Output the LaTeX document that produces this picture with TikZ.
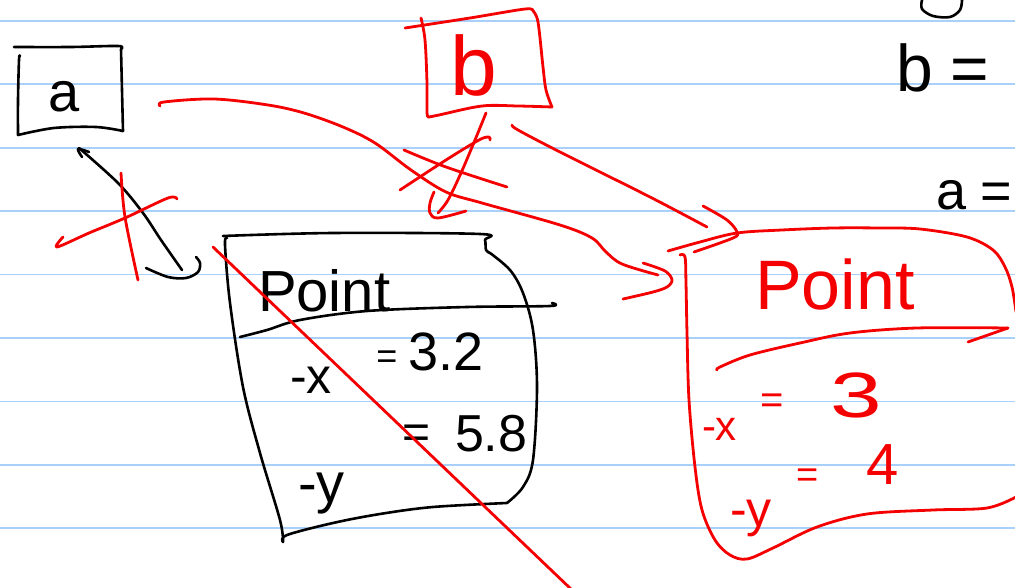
\documentclass[tikz,border=0pt]{standalone}
\usepackage{fontspec}
\setmainfont{Liberation Sans}
\definecolor{rule}{RGB}{168,208,248}
\definecolor{pen}{RGB}{245,0,0}
\tikzset{
  ruled/.style={rule, line width=1.8pt},
  blk/.style={black, line width=2.6pt, line cap=round, line join=round},
  rd/.style={pen, line width=2.8pt, line cap=round, line join=round},
  hand/.style={inner sep=0pt, outer sep=0pt, font=\fontsize{#1}{#1}\selectfont},
  sm/.style={smooth, tension=0.55}
}
\begin{document}
\begin{tikzpicture}[x=1pt,y=-1pt]
\useasboundingbox (0,0) rectangle (1015,588);
\fill[white] (0,0) rectangle (1015,588);
% ruled paper
\foreach \y in {21,84.4,147.8,211.2,274.6,338,401.4,464.8,528.2}
  \draw[ruled] (0,\y) -- (1015,\y);

% ---------- box a (black) ----------
\draw[blk] plot[sm] coordinates {(14,47) (71,47) (118,46) (121,49)};
\draw[blk] plot[sm] coordinates {(121,49) (122,90) (123,131)};
\draw[blk] plot[sm] coordinates {(20,56) (19,60) (18,100) (18,135)};
\draw[blk] plot[sm] coordinates {(18,135) (54,128) (96,127) (123,131)};
\node[hand=56, anchor=base] (a) at (64,112) {a};

% ---------- black arrow from a ----------
\draw[blk] plot[sm] coordinates {(79,148) (118,183) (143,213) (161,240) (182,270)};
\draw[blk] plot[sm] coordinates {(82,157) (78,149) (89,152)};
\draw[blk] plot[sm] coordinates {(146,268) (168,277) (186,278) (198,272) (200,263) (196,257)};

% ---------- left Point object (black) ----------
\draw[blk] plot[sm] coordinates {(223,236) (333,233) (480,234) (485,240) (486,250) (490,253)};
\draw[blk] plot[sm] coordinates {(490,253) (510,270) (523,293) (533,330) (537,387) (533,460) (523,487) (507,503)};
\draw[blk] plot[sm] coordinates {(507,503) (433,507) (380,514) (333,523) (287,535) (283,542)};
\draw[blk] plot[sm] coordinates {(283,542) (280,520) (260,453) (243,387) (230,303) (225,245) (227,238)};
\draw[blk] plot[sm] coordinates {(240,337) (267,330) (300,320) (367,311) (467,307) (550,306) (552,303)};
\node[hand=58, anchor=base west] (p1) at (258,311) {Point};
\node[hand=50, anchor=base west] (p1x) at (290,393) {-x};
\node[hand=36] (p1xe) at (387,360) {=};
\node[hand=54, anchor=base west] (p1xv) at (408,370) {3.2};
\node[hand=56, anchor=base west] (p1y) at (298,502) {-y};
\node[hand=48] (p1ye) at (417,437) {=};
\node[hand=52, anchor=base west] (p1yv) at (455,451) {5.8};

% ---------- top right notes (black) ----------
\draw[blk] plot[sm] coordinates {(922,0) (922,9) (933,16) (950,17) (960,10) (962,0)};
\node[hand=66, anchor=base west] (bnote) at (896,92) {b =};
\node[hand=54, anchor=base west] (anote) at (936,210) {a =};

% ---------- box b (red) ----------
\draw[rd] plot[sm] coordinates {(405,28) (470,18) (525,9) (533,11)};
\draw[rd] plot[sm] coordinates {(533,11) (538,22) (543,67) (546,90) (552,107)};
\draw[rd] plot[sm] coordinates {(421,18) (425,40) (427,83) (427,113) (429,117)};
\draw[rd] plot[sm] coordinates {(429,117) (439,115) (482,106) (518,106) (552,107)};
\node[hand=84, anchor=base, pen] (b) at (474,96) {b};

% ---------- red cross over black arrow ----------
\draw[rd] plot[sm] coordinates {(121,173) (125,217) (138,280)};
\draw[rd] plot[sm] coordinates {(63,237) (57,247) (89,233) (125,218) (168,198) (177,199)};

% ---------- red curve from a to right Point ----------
\draw[rd] plot[sm] coordinates {(160,106) (164,102) (214,99) (268,105) (304,113) (343,127) (375,143) (411,170) (446,192) (482,203) (560,225) (592,238) (606,252) (622,264) (658,275)};
\draw[rd] plot[sm] coordinates {(643,263) (665,271) (672,280) (667,287) (653,292) (623,299)};

% ---------- crossed-out arrow from b ----------
\draw[rd] plot[sm] coordinates {(486,113) (475,140) (461,173) (448,200) (438,213)};
\draw[rd] plot[sm] coordinates {(434,192) (430,203) (430,213) (438,218) (466,211)};
\draw[rd] plot[sm] coordinates {(404,150) (446,167) (507,187)};
\draw[rd] plot[sm] coordinates {(400,190) (446,160) (479,140) (489,137) (490,140)};

% ---------- arrow from b to right Point ----------
\draw[rd] plot[sm] coordinates {(512,125) (518,130) (560,152) (650,197) (707,227)};
\draw[rd] plot[sm] coordinates {(703,206) (727,220) (737,232) (733,238) (694,252)};

% ---------- right Point object (red) ----------
\draw[rd] plot[sm] coordinates {(668,251) (700,242) (737,233) (782,230) (833,228) (880,228) (920,229) (967,237) (993,250) (1005,267) (1012,287) (1016,312)};
\draw[rd] plot[sm] coordinates {(680,255) (685,257) (686,283) (687,333) (689,400) (695,467) (702,510) (715,540) (730,555) (747,559) (773,548) (817,527) (867,514) (933,510) (987,508) (1016,497)};
\draw[rd] plot[sm] coordinates {(717,370) (720,367) (750,355) (800,343) (850,333) (917,328) (1008,328)};
\draw[rd] (1008,328) -- (968,342);
\node[hand=70, anchor=base west, pen] (p2) at (755,309) {Point};
\node[hand=42, anchor=base west, pen] (p2x) at (702,440) {-x};
\node[hand=40, pen] (p2xe) at (772,404) {=};
\node[hand=64, anchor=base west, pen] (p2xv) at (830,417) {\scalebox{1.45}[1]{3}};
\node[hand=50, anchor=base west, pen] (p2y) at (730,526) {-y};
\node[hand=38, pen] (p2ye) at (808,478) {=};
\node[hand=58, anchor=base west, pen] (p2yv) at (866,484) {4};

% ---------- red strike through left Point ----------
\draw[rd] (213,247) -- (572,590);
\end{tikzpicture}
\end{document}
